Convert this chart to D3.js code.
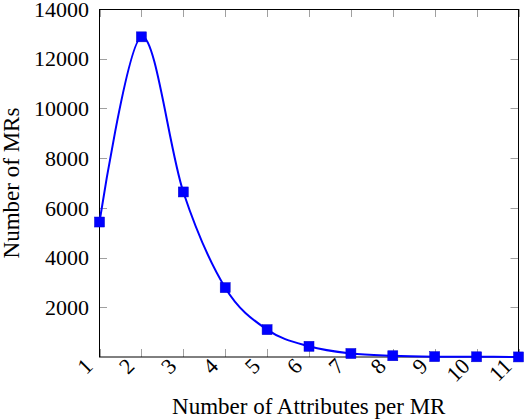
<!DOCTYPE html>
<html>
<head>
<meta charset="utf-8">
<script src="https://cdn.jsdelivr.net/npm/d3@7"></script>
<style>
  html, body { margin: 0; padding: 0; background: #fff; }
  svg { display: block; }
  text { font-family: "Liberation Serif", "Times New Roman", serif; fill: #000; }
</style>
</head>
<body>
<svg id="chart" width="524" height="420"></svg>
<script>
const attributes = [1, 2, 3, 4, 5, 6, 7, 8, 9, 10, 11];
const mrCounts = [5430, 12880, 6640, 2790, 1100, 430, 140, 50, 15, 8, 3];
const xTicks = [1, 2, 3, 4, 5, 6, 7, 8, 9, 10, 11];
const yTicks = [2000, 4000, 6000, 8000, 10000, 12000, 14000];
const xLabel = "Number of Attributes per MR";
const yLabel = "Number of MRs";

const svg = d3.select("#chart");
const L = 99, R = 518.5, T = 9, B = 357;

const x = d3.scaleLinear().domain([1, 11]).range([L + 0.5, R]);
const y = d3.scaleLinear().domain([0, 14000]).range([B, T]);

const data = attributes.map((a, i) => ({ a, v: mrCounts[i] }));

// tick marks (inward, mirrored)
const tickLen = 8, tickColor = "#a0a0a0";
const g = svg.append("g");
xTicks.forEach(t => {
  const xx = Math.round(x(t)) + 0.5;
  g.append("line").attr("x1", xx).attr("x2", xx).attr("y1", B).attr("y2", B - tickLen)
    .attr("stroke", tickColor).attr("stroke-width", 1);
  g.append("line").attr("x1", xx).attr("x2", xx).attr("y1", T).attr("y2", T + tickLen)
    .attr("stroke", tickColor).attr("stroke-width", 1);
});
yTicks.forEach(t => {
  const yy = Math.round(y(t)) + 0.5;
  g.append("line").attr("x1", L).attr("x2", L + tickLen).attr("y1", yy).attr("y2", yy)
    .attr("stroke", tickColor).attr("stroke-width", 1);
  g.append("line").attr("x1", R).attr("x2", R - tickLen).attr("y1", yy).attr("y2", yy)
    .attr("stroke", tickColor).attr("stroke-width", 1);
});

// axes frame
svg.append("line").attr("x1", L + 0.5).attr("x2", L + 0.5).attr("y1", T).attr("y2", B).attr("stroke", "#000");
svg.append("line").attr("x1", R).attr("x2", R).attr("y1", T).attr("y2", B).attr("stroke", "#000");
svg.append("line").attr("x1", L).attr("x2", R).attr("y1", T + 0.5).attr("y2", T + 0.5).attr("stroke", "#000");
svg.append("line").attr("x1", L).attr("x2", R).attr("y1", B).attr("y2", B).attr("stroke", "#000");

// curve
const line = d3.line().x(d => x(d.a)).y(d => y(d.v)).curve(d3.curveCardinal.tension(0));
svg.append("path").datum(data).attr("d", line)
  .attr("fill", "none").attr("stroke", "#0000ff").attr("stroke-width", 2);

// markers
const ms = 10;
svg.selectAll("rect.m").data(data).enter().append("rect").attr("class", "m")
  .attr("x", d => x(d.a) - ms / 2).attr("y", d => y(d.v) - ms / 2)
  .attr("width", ms).attr("height", ms)
  .attr("fill", "#0000ff").attr("stroke", "#0000cc").attr("stroke-width", 0.5);

// y tick labels
svg.selectAll("text.yt").data(yTicks).enter().append("text").attr("class", "yt")
  .attr("x", 89).attr("y", d => y(d)).attr("dy", "0.35em")
  .attr("text-anchor", "end").attr("font-size", 22).text(d => d);

// x tick labels (rotated)
svg.selectAll("text.xt").data(xTicks).enter().append("text").attr("class", "xt")
  .attr("transform", d => `translate(${x(d) - 11},${B + 5}) rotate(-45)`)
  .attr("dy", "0.35em").attr("text-anchor", "end").attr("font-size", 22).text(d => d);

// axis labels
svg.append("text").attr("x", (L + R) / 2).attr("y", 414)
  .attr("text-anchor", "middle").attr("font-size", 23).text(xLabel);
svg.append("text").attr("transform", `translate(19,${(T + B) / 2}) rotate(-90)`)
  .attr("text-anchor", "middle").attr("font-size", 23).text(yLabel);
</script>
</body>
</html>
